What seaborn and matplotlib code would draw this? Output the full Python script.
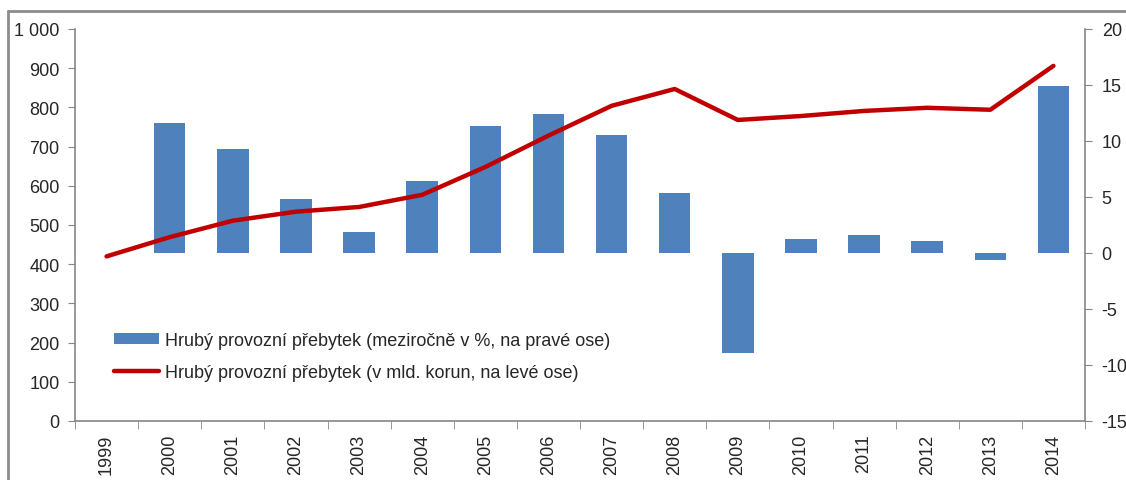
import numpy as np
import pandas as pd
import matplotlib
matplotlib.use("Agg")
import matplotlib.pyplot as plt
from matplotlib.lines import Line2D
from matplotlib.patches import Patch
from matplotlib.ticker import FuncFormatter, FixedLocator
import seaborn as sns

# --------------------------
# Data
# --------------------------
years = [str(y) for y in range(1999, 2015)]
surplus_bn = [420, 469, 511, 534, 546, 577, 648, 728, 804, 847,
              768, 778, 791, 799, 794, 906]          # mld. Kc, left axis
surplus_yoy = [np.nan, 11.6, 9.3, 4.8, 1.9, 6.4, 11.3, 12.4, 10.5, 5.4,
               -8.9, 1.25, 1.6, 1.1, -0.65, 14.9]   # % y/y, right axis

label_bar = "Hrubý provozní přebytek (meziročně v %, na pravé ose)"
label_line = "Hrubý provozní přebytek (v mld. korun, na levé ose)"

bar_color = "#4F81BD"
line_color = "#C00000"
axis_grey = "#868686"

df = pd.DataFrame({"year": years, "bn": surplus_bn, "yoy": surplus_yoy})

sns.set_style("white")
plt.rcParams["font.family"] = ["Liberation Sans", "DejaVu Sans"]
plt.rcParams["axes.unicode_minus"] = False

fig = plt.figure(figsize=(11.26, 4.81), dpi=100)
ax_line = fig.add_axes([75 / 1126, 1 - 422 / 481, 1010 / 1126, 392 / 481])
ax_bar = ax_line.twinx()

# bars behind, line in front
ax_bar.set_zorder(0)
ax_line.set_zorder(1)
ax_line.patch.set_visible(False)

sns.barplot(data=df, x="year", y="yoy", ax=ax_bar, color=bar_color,
            width=0.5, saturation=1, linewidth=0)
sns.lineplot(x=np.arange(len(years)), y=df["bn"], ax=ax_line,
             color=line_color, linewidth=3.2)

ax_line.set_xlim(-0.5, len(years) - 0.5)
ax_line.set_ylim(0, 1000)
ax_bar.set_ylim(-15, 20)

ax_line.set_yticks(range(0, 1001, 100))
ax_line.yaxis.set_major_formatter(
    FuncFormatter(lambda v, p: f"{int(v):,}".replace(",", " ")))
ax_bar.set_yticks(range(-15, 21, 5))

ax_line.set_xticks(range(len(years)))
ax_line.set_xticklabels(years, rotation=90)
ax_line.xaxis.set_minor_locator(FixedLocator(np.arange(-0.5, len(years), 1)))

for a in (ax_line, ax_bar):
    a.set_xlabel("")
    a.set_ylabel("")
    for s in a.spines.values():
        s.set_visible(False)

ax_line.spines["left"].set_visible(True)
ax_line.spines["bottom"].set_visible(True)
ax_bar.spines["right"].set_visible(True)
for s in (ax_line.spines["left"], ax_line.spines["bottom"], ax_bar.spines["right"]):
    s.set_color(axis_grey)
    s.set_linewidth(1.2)

ax_line.tick_params(axis="y", direction="out", length=5, color=axis_grey,
                    labelsize=13, pad=6, left=True)
ax_line.tick_params(axis="x", which="major", length=0, labelsize=13, pad=9,
                    labelbottom=True)
ax_line.tick_params(axis="x", which="minor", direction="out", length=6,
                    color=axis_grey, bottom=True)
ax_bar.tick_params(axis="x", which="both", length=0, labelbottom=False,
                   labeltop=False)
ax_bar.tick_params(axis="y", direction="out", length=5, color=axis_grey,
                   labelsize=13, pad=7, right=True)

handles = [Patch(facecolor=bar_color, edgecolor="none"),
           Line2D([0], [0], color=line_color, linewidth=3.2)]
ax_line.legend(handles, [label_bar, label_line], loc="upper left",
               bbox_to_anchor=(114 / 1126, 1 - 333 / 481),
               bbox_transform=fig.transFigure, frameon=False, fontsize=13,
               handlelength=2.5, handleheight=0.55, handletextpad=0.3,
               labelspacing=0.85, borderpad=0, borderaxespad=0)

# outer chart-area frame (only left and top visible within the crop)
fig.add_artist(Line2D([8 / 1126, 8 / 1126], [0, 1 - 12 / 481],
                      transform=fig.transFigure, color="#8c8c8c", linewidth=2))
fig.add_artist(Line2D([8 / 1126, 1], [1 - 12 / 481, 1 - 12 / 481],
                      transform=fig.transFigure, color="#8c8c8c", linewidth=2))

fig.savefig("out.png", dpi=100)
plt.close(fig)
